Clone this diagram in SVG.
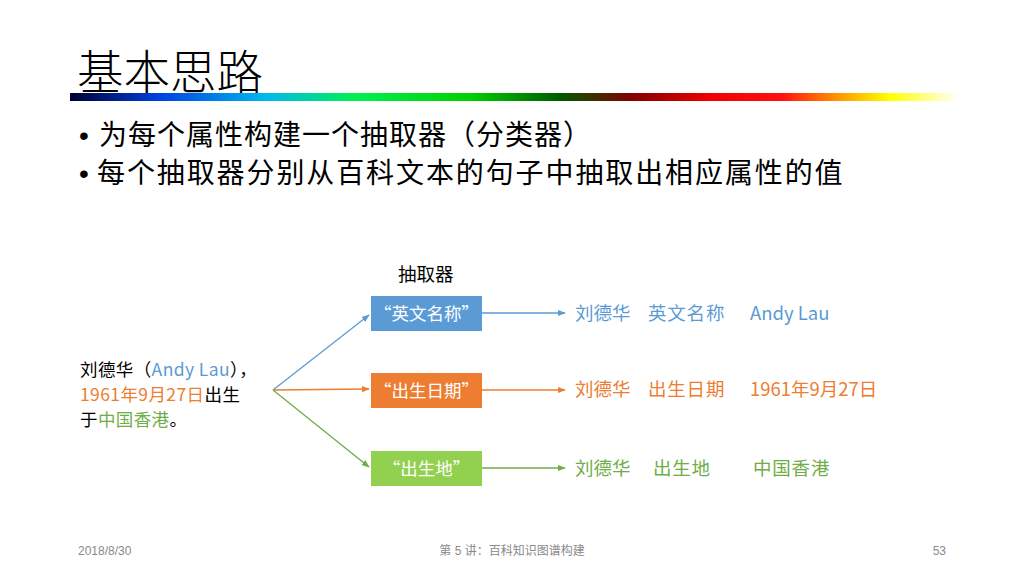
<svg xmlns="http://www.w3.org/2000/svg" width="1024" height="576" viewBox="0 0 1024 576">
<defs>
<linearGradient id="rb" x1="0" y1="0" x2="1" y2="0">
<stop offset="0" stop-color="#000033"/>
<stop offset="0.1" stop-color="#0040e0"/>
<stop offset="0.22" stop-color="#00b8f0"/>
<stop offset="0.32" stop-color="#00f050"/>
<stop offset="0.45" stop-color="#00d000"/>
<stop offset="0.55" stop-color="#005a00"/>
<stop offset="0.63" stop-color="#800000"/>
<stop offset="0.72" stop-color="#f00000"/>
<stop offset="0.8" stop-color="#ff1010"/>
<stop offset="0.86" stop-color="#ff9000"/>
<stop offset="0.92" stop-color="#ffff00"/>
<stop offset="1" stop-color="#ffffff"/>
</linearGradient>
<marker id="ab" viewBox="0 0 10 10" refX="9" refY="5" markerWidth="8" markerHeight="8" orient="auto" markerUnits="userSpaceOnUse"><path d="M0,1 L10,5 L0,9 z" fill="#5B9BD5"/></marker>
<marker id="ao" viewBox="0 0 10 10" refX="9" refY="5" markerWidth="8" markerHeight="8" orient="auto" markerUnits="userSpaceOnUse"><path d="M0,1 L10,5 L0,9 z" fill="#ED7D31"/></marker>
<marker id="ag" viewBox="0 0 10 10" refX="9" refY="5" markerWidth="8" markerHeight="8" orient="auto" markerUnits="userSpaceOnUse"><path d="M0,1 L10,5 L0,9 z" fill="#70AD47"/></marker>
</defs>
<style>
text{font-family:"Noto Sans CJK SC","Noto Sans",sans-serif}
.title{font-size:46.5px;fill:#000;font-weight:300}
.bul{font-size:28px;fill:#000}
.dot{font-family:"Liberation Sans",sans-serif;letter-spacing:0}
.t{font-size:18.5px}
.src{font-size:17.5px;letter-spacing:0.4px}
.box{font-size:17.5px;fill:#fff;text-anchor:middle}
.foot{font-size:12px;fill:#8a8a8a;font-family:"Liberation Sans","Noto Sans CJK SC",sans-serif}
.b{fill:#5B9BD5}.o{fill:#ED7D31}.g{fill:#70AD47}.k{fill:#000}
</style>
<rect width="1024" height="576" fill="#fff"/>
<text class="title" x="77" y="89">基本思路</text>
<rect x="70" y="93" width="890" height="8" fill="url(#rb)"/>
<text class="bul" x="79" y="145"><tspan class="dot">•</tspan><tspan x="99" letter-spacing="1">为每个属性构建一个抽取器（分类器）</tspan></text>
<text class="bul" x="79" y="183"><tspan class="dot">•</tspan><tspan x="97" letter-spacing="1.9">每个抽取器分别从百科文本的句子中抽取出相应属性的值</tspan></text>
<g id="label-extractor"><text class="t k" x="398" y="281" font-size="19">抽取器</text></g>
<g id="source"><text class="src k" x="80" y="376">刘德华（<tspan class="b">Andy Lau</tspan>），</text>
<text class="src" x="80" y="401"><tspan class="o">1961年9月27日</tspan><tspan class="k">出生</tspan></text>
<text class="src k" x="80" y="426">于<tspan class="g">中国香港</tspan>。</text></g>
<g id="n1"><rect x="371" y="296" width="111" height="35" fill="#5B9BD5"/><text class="box" x="426.5" y="319.5">“英文名称”</text></g>
<g id="n2"><rect x="371" y="373" width="111" height="35" fill="#ED7D31"/><text class="box" x="426.5" y="396.5">“出生日期”</text></g>
<g id="n3"><rect x="371" y="451" width="111" height="35" fill="#92D050"/><text class="box" x="426.5" y="474.5">“出生地”</text></g>
<g id="connectors" fill="none" stroke-width="1.3">
<line x1="273" y1="390" x2="369" y2="315" stroke="#5B9BD5" marker-end="url(#ab)"/>
<line x1="273" y1="390" x2="369" y2="389" stroke="#ED7D31" marker-end="url(#ao)"/>
<line x1="273" y1="390" x2="369" y2="467" stroke="#70AD47" marker-end="url(#ag)"/>
<line x1="482" y1="313" x2="565" y2="313" stroke="#5B9BD5" marker-end="url(#ab)"/>
<line x1="482" y1="390" x2="565" y2="390" stroke="#ED7D31" marker-end="url(#ao)"/>
<line x1="482" y1="468" x2="565" y2="468" stroke="#70AD47" marker-end="url(#ag)"/>
</g>
<g id="r1"><text class="t b" x="575" y="320">刘德华</text><text class="t b" x="648" y="320" letter-spacing="0.8">英文名称</text><text class="t b" x="750" y="320">Andy Lau</text></g>
<g id="r2"><text class="t o" x="575" y="396">刘德华</text><text class="t o" x="648" y="396" letter-spacing="0.8">出生日期</text><text class="t o" x="750" y="396">1961年9月27日</text></g>
<g id="r3"><text class="t g" x="575" y="475">刘德华</text><text class="t g" x="653" y="475" letter-spacing="0.8">出生地</text><text class="t g" x="753" y="475" letter-spacing="0.8">中国香港</text></g>
<text class="foot" x="78" y="555">2018/8/30</text>
<text class="foot" x="512" y="555" text-anchor="middle">第 5 讲：百科知识图谱构建</text>
<text class="foot" x="946" y="555" text-anchor="end">53</text>
</svg>
